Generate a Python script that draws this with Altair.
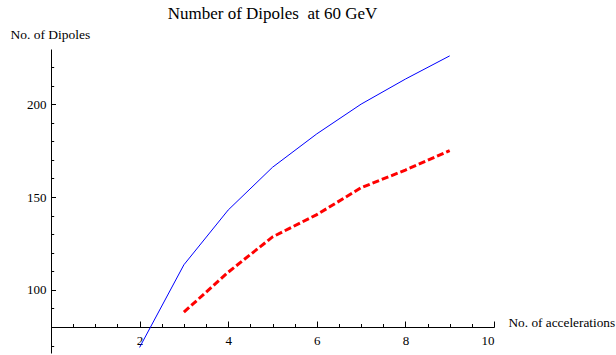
import altair as alt
import pandas as pd

# ---- data ----
accelerations_blue = [2, 3, 4, 5, 6, 7, 8, 9]
dipoles_blue = [69, 113.5, 143, 166, 184, 200, 213.5, 226]
accelerations_red = [3, 4, 5, 6, 7, 8, 9]
dipoles_red = [88, 109.5, 128.5, 140.5, 155, 164.5, 175]

x_tick_values = [0.5 * i for i in range(1, 21)]
x_label_values = [2, 4, 6, 8, 10]
y_tick_values = list(range(70, 230, 10))
y_label_values = [100, 150, 200]

FONT = "Liberation Serif"
W, H = 443, 304
X_DOMAIN = [0, 10]
Y_DOMAIN = [66, 229.7]

df_blue = pd.DataFrame({"acc": accelerations_blue, "dip": dipoles_blue})
df_red = pd.DataFrame({"acc": accelerations_red, "dip": dipoles_red})

x_scale = alt.Scale(domain=X_DOMAIN, nice=False, zero=False)
y_scale = alt.Scale(domain=Y_DOMAIN, nice=False, zero=False)

blue = alt.Chart(df_blue).mark_line(color="#0000ff", strokeWidth=1, clip=True).encode(
    x=alt.X("acc:Q", scale=x_scale, axis=alt.Axis(
        orient="bottom", offset=-26, values=x_label_values, ticks=False, tickSize=0,
        grid=False, domainColor="black", domainWidth=1,
        labelFont=FONT, labelFontSize=13, labelColor="black", labelPadding=7,
        title="No. of accelerations", titleFont=FONT, titleFontSize=13.3,
        titleFontWeight="normal", titleColor="black", titleX=457, titleY=-1,
        titleAlign="left", titleBaseline="alphabetic", titleAngle=0)),
    y=alt.Y("dip:Q", scale=y_scale, axis=alt.Axis(
        orient="left", values=y_label_values, ticks=False, tickSize=0,
        grid=False, domainColor="black", domainWidth=1,
        labelFont=FONT, labelFontSize=13, labelColor="black", labelPadding=5,
        title="No. of Dipoles", titleFont=FONT, titleFontSize=13.5,
        titleFontWeight="normal", titleColor="black", titleX=-41, titleY=-11,
        titleAlign="left", titleBaseline="alphabetic", titleAngle=0)),
)

red = alt.Chart(df_red).mark_line(color="#ff0000", strokeWidth=3, strokeDash=[7, 3],
                                   strokeCap="butt", clip=True).encode(
    x=alt.X("acc:Q", scale=x_scale, axis=alt.Axis(
        orient="top", offset=-278, values=x_tick_values, labels=False, domain=False,
        grid=False, tickColor="black", tickWidth=1,
        tickSize={"condition": {"test": "datum.value % 2 === 0", "value": 6}, "value": 3.5},
        title=None)),
    y=alt.Y("dip:Q", scale=y_scale, axis=alt.Axis(
        orient="right", offset=-443, values=y_tick_values, labels=False, domain=False,
        grid=False, tickColor="black", tickWidth=1,
        tickSize={"condition": {"test": "datum.value % 50 === 0", "value": 4.5}, "value": 2.7},
        title=None)),
)

chart = alt.layer(red, blue).resolve_axis(x="independent", y="independent").properties(
    width=W, height=H,
    autosize="none",
    padding={"left": 51, "top": 49, "right": 122, "bottom": 2},
    title=alt.TitleParams(text="Number of Dipoles\u00a0 at 60 GeV", font=FONT, fontSize=17,
                          fontWeight="normal", color="black", anchor="middle"),
).configure_view(stroke=None)

chart.save("out.html", embed_options={"renderer": "svg", "actions": False})
